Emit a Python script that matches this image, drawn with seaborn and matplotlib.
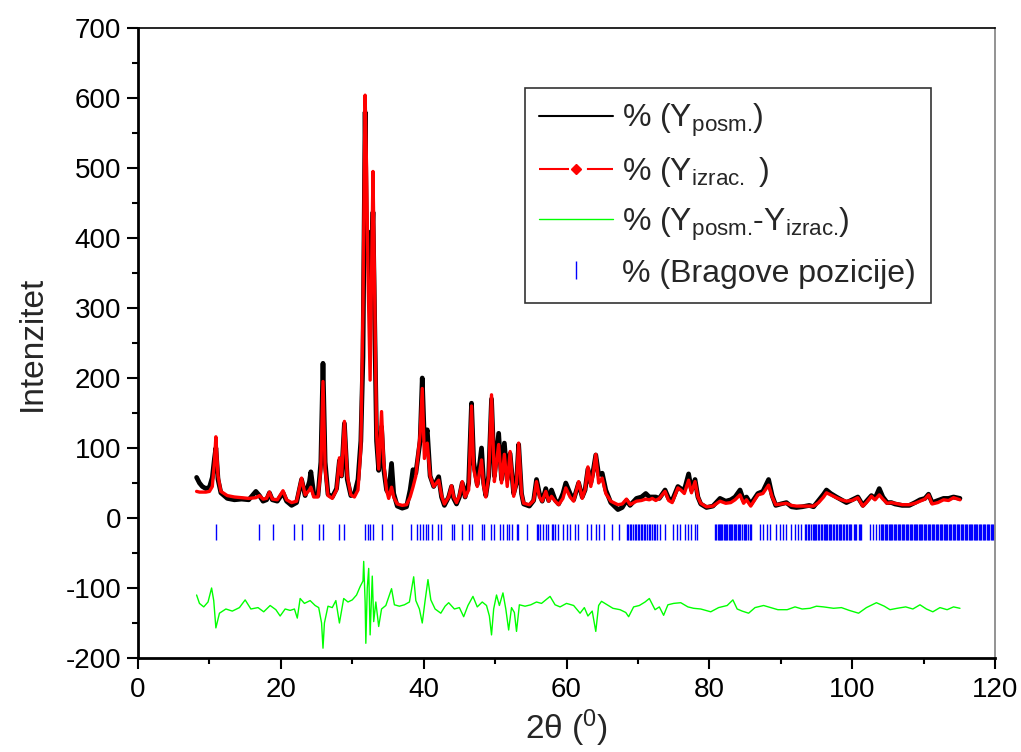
import numpy as np
import pandas as pd
import matplotlib
matplotlib.use("Agg")
import matplotlib.pyplot as plt
from matplotlib.lines import Line2D
from matplotlib.ticker import MultipleLocator
import seaborn as sns

two_theta = [
    8.2, 8.6, 9.0, 9.5, 10.0, 10.4, 10.7, 10.9, 11.2, 11.6, 12.5, 13.5, 14.5, 15.5,
    16.5, 17.0, 17.5, 18.0, 18.4, 18.8, 19.5, 20.3, 20.8, 21.5, 22.2, 22.9, 23.4,
    24.0, 24.2, 24.6, 25.2, 25.6, 25.9, 26.2, 26.6, 27.2, 27.8, 28.2, 28.5, 28.9,
    29.3, 29.8, 30.3, 30.8, 31.2, 31.5, 31.8, 32.0, 32.2, 32.5, 32.9, 33.1, 33.4,
    33.7, 34.1, 34.4, 34.8, 35.1, 35.5, 35.8, 36.3, 37.0, 37.6, 38.1, 38.5, 38.9,
    39.5, 39.8, 40.1, 40.5, 40.9, 41.4, 42.1, 42.5, 42.9, 43.5, 43.9, 44.2, 44.6,
    45.0, 45.4, 45.8, 46.3, 46.7, 47.0, 47.5, 48.1, 48.4, 48.7, 49.1, 49.5, 49.9,
    50.2, 50.5, 50.9, 51.3, 51.7, 52.1, 52.6, 53.0, 53.3, 53.7, 54.0, 54.8, 55.4,
    55.8, 56.2, 56.6, 57.1, 57.5, 57.9, 58.4, 58.9, 59.5, 59.9, 60.5, 61.0, 61.7,
    62.2, 62.6, 63.0, 63.4, 63.7, 64.1, 64.5, 65.0, 65.5, 66.2, 67.2, 67.8, 68.4,
    68.9, 69.8, 70.5, 71.1, 71.6, 72.0, 72.5, 73.0, 73.8, 74.3, 74.8, 75.6, 76.0,
    76.5, 77.1, 77.5, 78.0, 78.4, 78.8, 79.6, 80.5, 81.5, 82.3, 83.0, 83.6, 84.3,
    84.8, 85.2, 85.8, 86.8, 87.5, 88.3, 88.8, 89.3, 90.0, 90.8, 91.5, 92.2, 93.0,
    94.0, 94.6, 95.3, 96.0, 96.4, 97.0, 97.8, 98.5, 99.2, 100.0, 100.8, 101.5,
    102.0, 102.7, 103.2, 103.8, 104.3, 104.9, 105.5, 106.0, 107.0, 108.0, 108.8,
    109.5, 110.2, 110.7, 111.2, 112.0, 112.8, 113.5, 114.2, 115.1,
]
y_calc = [
    38, 37, 37, 37, 38, 45, 80, 116, 60, 38, 32, 30, 29, 28,
    29, 32, 27, 28, 37, 27, 26, 39, 26, 22, 24, 57, 33,
    40, 44, 30, 30, 70, 195, 70, 32, 28, 40, 86, 60, 138,
    60, 33, 30, 40, 100, 300, 604, 500, 350, 197, 495, 350, 120,
    70, 152, 80, 40, 28, 44, 30, 20, 18, 19, 30, 44, 60,
    120, 185, 85, 107, 60, 45, 54, 32, 20, 30, 46, 30, 22,
    32, 52, 30, 40, 160, 70, 45, 83, 45, 30, 60, 176, 52,
    80, 105, 50, 91, 45, 95, 31, 50, 107, 35, 21, 19, 25,
    52, 30, 24, 38, 24, 31, 24, 19, 28, 43, 30, 24, 52,
    28, 40, 73, 45, 60, 91, 50, 57, 35, 24, 19, 20, 27,
    19, 24, 25, 27, 26, 28, 25, 28, 38, 25, 22, 43, 40,
    35, 54, 36, 52, 30, 21, 16, 17, 24, 21, 22, 26, 33,
    21, 26, 17, 33, 35, 47, 30, 19, 20, 21, 18, 17, 17,
    17, 17, 22, 30, 36, 33, 29, 26, 24, 25, 29, 17,
    22, 31, 26, 33, 27, 21, 22, 21, 19, 19, 21,
    24, 27, 33, 20, 22, 26, 25, 29, 26,
]
y_obs = [
    58, 50, 45, 42, 44, 58, 85, 100, 55, 36, 28, 26, 27, 26,
    38, 32, 24, 26, 36, 26, 24, 36, 24, 18, 22, 55, 32,
    52, 66, 35, 32, 80, 221, 80, 34, 30, 42, 82, 60, 135,
    55, 32, 34, 55, 110, 230, 580, 380, 409, 320, 437, 310, 110,
    68, 130, 70, 40, 35, 78, 35, 17, 14, 16, 40, 69, 64,
    110, 200, 110, 126, 60, 45, 59, 30, 18, 30, 45, 28, 20,
    30, 50, 30, 50, 164, 80, 48, 100, 50, 32, 60, 170, 60,
    90, 121, 55, 107, 55, 92, 35, 50, 105, 35, 20, 17, 25,
    55, 35, 24, 42, 25, 40, 26, 20, 35, 50, 35, 26, 50,
    30, 40, 70, 50, 65, 90, 62, 64, 40, 22, 12, 15, 25,
    18, 28, 30, 35, 30, 30, 30, 28, 40, 28, 25, 45, 42,
    40, 63, 40, 55, 30, 20, 15, 17, 28, 24, 26, 30, 40,
    25, 30, 20, 35, 38, 55, 32, 18, 20, 22, 16, 15, 16,
    18, 16, 25, 34, 40, 35, 30, 26, 22, 26, 30, 18,
    24, 32, 28, 42, 30, 22, 22, 20, 18, 18, 22,
    26, 28, 34, 22, 25, 28, 28, 30, 28,
]

# difference curve (read separately)
diff_theta = [
    8.2, 8.6, 9.2, 9.8, 10.3, 10.6, 10.9, 11.4, 12.3, 13.2, 14.2, 15.0, 15.8, 16.8,
    17.6, 18.5, 19.3, 19.9, 20.6, 21.3, 21.9, 22.3, 22.7, 23.3, 24.1, 24.8, 25.3,
    25.7, 25.9, 26.1, 26.6, 27.2, 27.7, 28.2, 28.8, 29.4, 30.0, 30.6, 31.1, 31.5,
    31.6, 31.8, 31.9, 32.1, 32.3, 32.5, 32.8, 33.0, 33.3, 33.7, 34.1, 34.7, 35.5,
    35.9, 36.6, 37.3, 38.0, 38.6, 38.9, 39.4, 39.8, 40.2, 40.6, 41.0, 41.6, 42.4,
    43.0, 43.5, 44.3, 45.0, 45.6, 46.2, 46.9, 47.5, 48.2, 48.8, 49.2, 49.5, 49.8,
    50.2, 50.6, 51.1, 51.5, 51.9, 52.3, 52.7, 53.0, 53.4, 54.2, 55.0, 55.8, 56.5,
    57.7, 58.4, 59.1, 60.0, 61.0, 61.9, 62.5, 63.0, 63.6, 64.1, 64.5, 64.9, 65.7,
    66.5, 67.5, 68.3, 68.7, 69.4, 70.2, 71.0, 71.6, 72.4, 73.0, 73.6, 74.2, 75.0,
    76.0, 77.0, 77.8, 78.8, 80.2, 81.3, 82.5, 83.3, 83.9, 84.6, 85.5, 86.4, 87.6,
    88.6, 89.6, 90.9, 92.0, 93.0, 94.1, 95.0, 96.0, 97.4, 98.5, 99.6, 100.9, 102.0,
    103.4, 104.5, 105.3, 106.3, 107.5, 108.5, 109.5, 110.4, 111.3, 112.3, 113.3,
    114.2, 115.1,
]
y_diff = [
    -110, -122, -127, -120, -100, -118, -157, -136, -130, -133, -128, -117, -130, -128,
    -134, -125, -131, -140, -130, -132, -130, -143, -115, -122, -118, -125, -128,
    -150, -186, -150, -126, -128, -118, -150, -115, -120, -117, -110, -98, -90,
    -62, -120, -179, -100, -72, -167, -83, -148, -120, -155, -130, -125, -101,
    -124, -126, -124, -120, -84, -118, -130, -150, -118, -88, -117, -130, -136,
    -126, -121, -130, -128, -141, -125, -112, -127, -120, -125, -140, -167, -130,
    -110, -125, -107, -130, -160, -128, -135, -162, -124, -126, -124, -120, -122,
    -112, -124, -127, -122, -125, -136, -128, -140, -133, -162, -125, -119, -124,
    -129, -131, -135, -141, -127, -125, -120, -115, -131, -127, -139, -124, -122,
    -121, -127, -129, -130, -134, -128, -125, -117, -130, -133, -136, -128, -125,
    -128, -131, -131, -127, -130, -129, -126, -127, -129, -128, -132, -136, -128,
    -121, -126, -131, -129, -127, -130, -124, -130, -134, -128, -131,
    -127, -129,
]

# Bragg reflection positions
bragg_pos = [
    10.88, 16.95, 18.86, 21.80, 22.92, 25.40, 25.86, 28.20, 28.90, 31.84, 32.17,
    32.49, 32.96, 34.13, 35.53, 38.19, 39.12, 39.50, 39.87, 40.29, 40.57, 41.13,
    41.97, 42.39, 43.98, 44.30, 45.42, 46.40, 46.73, 48.13, 48.51, 49.39, 49.86,
    50.70, 51.17, 51.63, 51.96, 52.33, 53.04, 53.27, 54.53, 55.84, 56.07, 56.30,
    56.77, 57.14, 57.47, 57.94, 58.17, 58.40, 58.78, 59.57, 60.00, 60.50, 61.20,
    61.67, 62.93, 63.40, 64.15, 64.61, 65.31, 66.34, 67.41,
    68.45, 68.65, 68.90, 69.10, 69.30, 69.55, 69.75, 69.95, 70.20, 70.40, 70.60,
    70.85, 71.05, 71.30, 71.50, 71.75, 71.95, 72.20, 72.45, 72.70, 73.10,
    73.81, 74.97, 75.44, 75.90, 76.60, 77.07, 77.50, 78.00, 78.24,
    80.85, 81.00, 81.15, 81.30, 81.50, 81.65, 81.80, 82.00, 82.20, 82.35, 82.50,
    82.70, 82.90, 83.05, 83.20, 83.40, 83.60, 83.80, 84.00, 84.20, 84.35, 84.60,
    84.80, 85.00, 85.20, 85.45, 85.70, 85.90,
    87.10, 87.58, 88.05, 88.52, 89.40, 89.85, 90.30, 90.80, 91.50, 91.95, 92.40, 92.90,
    93.40, 93.60, 93.85, 94.00, 94.20, 94.45, 94.60, 94.80, 95.00, 95.20, 95.40,
    95.60, 95.80, 96.00, 96.20, 96.35, 96.50, 96.70, 96.90, 97.10, 97.30, 97.50,
    97.70, 97.90, 98.10, 98.30, 98.50, 98.70, 98.90, 99.10, 99.30, 99.50, 99.70,
    99.90, 100.20, 100.40, 100.60, 100.90, 101.10, 101.30,
    102.50, 102.90, 103.40,
    103.80, 104.00, 104.15, 104.35, 104.55, 104.70, 104.90, 105.10, 105.30, 105.45,
    105.65, 105.85, 106.00, 106.20, 106.40, 106.55, 106.75, 106.95, 107.10, 107.30,
    107.50, 107.65, 107.85, 108.05, 108.20, 108.40, 108.60, 108.75, 108.95, 109.15,
    109.30, 109.50, 109.70, 109.85, 110.05, 110.25, 110.40, 110.60, 110.80, 110.95,
    111.15, 111.35, 111.50, 111.70, 111.90, 112.05, 112.25, 112.45, 112.60, 112.80,
    113.00, 113.15, 113.35, 113.55, 113.70, 113.90, 114.10, 114.25, 114.45, 114.65,
    114.80, 115.00, 115.20, 115.35, 115.55, 115.75, 115.90, 116.10, 116.30, 116.45,
    116.65, 116.85, 117.00, 117.20, 117.40, 117.55, 117.75, 117.95, 118.10, 118.30,
    118.50, 118.65, 118.85, 119.05, 119.20, 119.40, 119.60, 119.75, 119.95,
]

x_ticks = [0, 20, 40, 60, 80, 100, 120]
y_ticks = [-200, -100, 0, 100, 200, 300, 400, 500, 600, 700]

sns.set_theme(style="white")
plt.rcParams["font.family"] = ["Liberation Sans", "DejaVu Sans"]
plt.rcParams["mathtext.fontset"] = "custom"
plt.rcParams["mathtext.rm"] = "Liberation Sans"
plt.rcParams["mathtext.it"] = "Liberation Sans:italic"
plt.rcParams["axes.unicode_minus"] = False

profile = pd.DataFrame({"two_theta": two_theta, "obs": y_obs, "calc": y_calc})
diff = pd.DataFrame({"two_theta": diff_theta, "diff": y_diff})

fig = plt.figure(figsize=(10.21, 7.52), dpi=100)
ax = fig.add_axes([0.1352, 0.125, 0.8393, 0.8378])

sns.lineplot(data=profile, x="two_theta", y="obs", ax=ax, color="black",
             lw=3.4, estimator=None, sort=False, zorder=2)
sns.lineplot(data=profile, x="two_theta", y="calc", ax=ax, color="red",
             lw=2.4, estimator=None, sort=False, zorder=3)
sns.lineplot(data=diff, x="two_theta", y="diff", ax=ax, color="#00ff00",
             lw=1.0, estimator=None, sort=False, zorder=2)
ax.vlines(bragg_pos, -31, -8, color="blue", lw=1.0, zorder=2)

ax.set_xlim(0, 120)
ax.set_ylim(-200, 700)
ax.set_xticks(x_ticks)
ax.set_yticks(y_ticks)
ax.xaxis.set_minor_locator(MultipleLocator(10))
ax.yaxis.set_minor_locator(MultipleLocator(50))
ax.tick_params(axis="both", which="major", direction="out", length=8, width=1.5,
               labelsize=20, color="black", labelcolor="black")
ax.tick_params(axis="both", which="minor", direction="out", length=4.5, width=1.5,
               color="black")
ax.tick_params(axis="y", which="both", left=True, right=False, pad=4)
ax.tick_params(axis="x", which="both", bottom=True, top=False, pad=6)

for side in ["left", "bottom"]:
    ax.spines[side].set_linewidth(2)
    ax.spines[side].set_color("black")
ax.spines["top"].set_linewidth(1.2)
ax.spines["top"].set_color("black")
ax.spines["right"].set_linewidth(1.2)
ax.spines["right"].set_color("#808080")

ax.set_xlabel(r"2θ ($^{\mathregular{0}}$)", fontsize=24, labelpad=3)
ax.set_ylabel("Intenzitet", fontsize=24, labelpad=13)

handles = [
    Line2D([], [], color="black", lw=1.5),
    Line2D([], [], color="red", lw=1.5, ls=(0, (14.4, 8.6)), marker="D",
           markersize=5),
    Line2D([], [], color="#00ff00", lw=1.0),
    Line2D([], [], color="blue", ls="none", marker="|", markersize=13, mew=1),
]
labels = [
    r"$\mathregular{\%\ (Y_{posm.}\!)}$",
    r"$\mathregular{\%\ (Y_{izrac.}\ )}$",
    r"$\mathregular{\%\ (Y_{posm.}\!}$-$\mathregular{Y_{izrac.}\!)}$",
    "% (Bragove pozicije)",
]
leg = ax.legend(handles, labels, loc="upper left", bbox_to_anchor=(0.4516, 0.905),
                fontsize=23, frameon=True, fancybox=False, edgecolor="black",
                handlelength=2.3, handletextpad=0.3, labelspacing=0.5,
                borderpad=0.45, numpoints=1, borderaxespad=0)
leg.get_frame().set_linewidth(1.2)

fig.savefig("out.png", dpi=100)
plt.close(fig)
